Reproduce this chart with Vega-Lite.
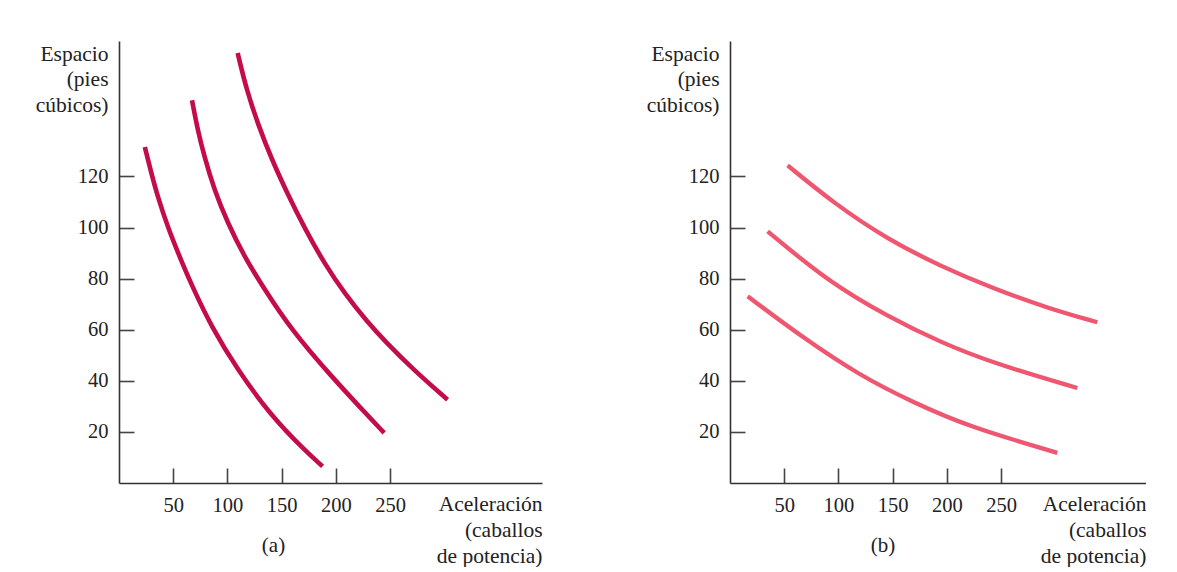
{
  "$schema": "https://vega.github.io/schema/vega-lite/v6.json",
  "padding": {"left": 35, "top": 41, "right": 0, "bottom": 0},
  "background": "white",
  "bounds": "flush",
  "spacing": 188,
  "datasets": {
    "a": [
      {"curve": 1, "x": 23.8, "y": 131.5}, {"curve": 1, "x": 29.5, "y": 121.8}, {"curve": 1, "x": 35.7, "y": 112.0}, {"curve": 1, "x": 44.9, "y": 100.2}, {"curve": 1, "x": 57.1, "y": 87.3}, {"curve": 1, "x": 67.9, "y": 76.6}, {"curve": 1, "x": 84.8, "y": 61.5}, {"curve": 1, "x": 109.4, "y": 44.2}, {"curve": 1, "x": 140.1, "y": 26.4}, {"curve": 1, "x": 170.8, "y": 13.0}, {"curve": 1, "x": 187.7, "y": 6.5},
      {"curve": 2, "x": 67.3, "y": 149.8}, {"curve": 2, "x": 72.5, "y": 138.3}, {"curve": 2, "x": 78.6, "y": 127.9}, {"curve": 2, "x": 87.8, "y": 114.8}, {"curve": 2, "x": 100.2, "y": 101.8}, {"curve": 2, "x": 115.5, "y": 88.7}, {"curve": 2, "x": 132.4, "y": 77.0}, {"curve": 2, "x": 158.5, "y": 60.1}, {"curve": 2, "x": 198.4, "y": 40.5}, {"curve": 2, "x": 221.5, "y": 30.0}, {"curve": 2, "x": 244.5, "y": 19.6},
      {"curve": 3, "x": 109.4, "y": 168.3}, {"curve": 3, "x": 117.5, "y": 154.0}, {"curve": 3, "x": 128.5, "y": 140.0}, {"curve": 3, "x": 140.5, "y": 127.0}, {"curve": 3, "x": 155.0, "y": 113.5}, {"curve": 3, "x": 172.0, "y": 99.0}, {"curve": 3, "x": 190.0, "y": 85.5}, {"curve": 3, "x": 208.0, "y": 74.2}, {"curve": 3, "x": 229.0, "y": 63.0}, {"curve": 3, "x": 244.5, "y": 55.8}, {"curve": 3, "x": 272.2, "y": 44.0}, {"curve": 3, "x": 302.9, "y": 32.6}
    ],
    "b": [
      {"curve": 1, "x": 53.1, "y": 124.3}, {"curve": 1, "x": 96.0, "y": 109.4}, {"curve": 1, "x": 145.2, "y": 95.4}, {"curve": 1, "x": 194.3, "y": 84.8}, {"curve": 1, "x": 243.4, "y": 76.0}, {"curve": 1, "x": 292.5, "y": 68.5}, {"curve": 1, "x": 338.6, "y": 62.9},
      {"curve": 2, "x": 34.7, "y": 98.5}, {"curve": 2, "x": 90.0, "y": 79.0}, {"curve": 2, "x": 145.2, "y": 65.2}, {"curve": 2, "x": 194.3, "y": 55.0}, {"curve": 2, "x": 243.4, "y": 46.8}, {"curve": 2, "x": 320.2, "y": 37.2},
      {"curve": 3, "x": 16.3, "y": 73.1}, {"curve": 3, "x": 65.4, "y": 57.4}, {"curve": 3, "x": 120.6, "y": 41.8}, {"curve": 3, "x": 169.7, "y": 31.4}, {"curve": 3, "x": 218.9, "y": 22.2}, {"curve": 3, "x": 301.7, "y": 11.8}
    ]
  },
  "config": {
    "view": {"stroke": null},
    "font": "Liberation Serif",
    "axis": {
      "grid": false,
      "domainColor": "#333333",
      "domainWidth": 1.6,
      "tickColor": "#444444",
      "tickWidth": 1.6,
      "tickSize": -15,
      "labelFont": "Liberation Serif",
      "labelFontSize": 20.5,
      "labelColor": "#222222",
      "labelFlush": false,
      "labelOverlap": false,
      "titleFont": "Liberation Serif",
      "titleFontSize": 21.5,
      "titleFontWeight": "normal",
      "titleColor": "#222222"
    },
    "title": {"font": "Liberation Serif", "fontSize": 21, "fontWeight": "normal", "color": "#222222"}
  },
  "hconcat": [
    {
      "width": 423,
      "height": 442,
      "data": {"name": "a"},
      "title": {"text": "(a)", "orient": "bottom", "anchor": "middle", "frame": "group", "dx": -57, "dy": -15, "offset": 0, "baseline": "alphabetic"},
      "mark": {"type": "line", "interpolate": "basis", "strokeWidth": 4.6, "color": "#C40C4B", "strokeCap": "butt"},
      "encoding": {
        "detail": {"field": "curve", "type": "nominal"},
        "x": {"field": "x", "type": "quantitative", "scale": {"domain": [0, 390], "nice": false, "zero": false},
          "axis": {"values": [50, 100, 150, 200, 250], "labelBaseline": "alphabetic", "labelPadding": 43,
            "title": ["Aceleración", "(caballos", "de potencia)"], "titleX": 423, "titleY": 27, "titleAlign": "right", "titleBaseline": "alphabetic", "titleLineHeight": 26}},
        "y": {"field": "y", "type": "quantitative", "scale": {"domain": [0, 173], "nice": false},
          "axis": {"values": [20, 40, 60, 80, 100, 120], "labelPadding": 26, "labelAlign": "right", "labelBaseline": "middle",
            "title": ["Espacio", "(pies", "cúbicos)"], "titleAngle": 0, "titleX": -11, "titleY": 19, "titleAlign": "right", "titleBaseline": "alphabetic", "titleLineHeight": 25.5}}
      }
    },
    {
      "width": 416,
      "height": 442,
      "data": {"name": "b"},
      "title": {"text": "(b)", "orient": "bottom", "anchor": "middle", "frame": "group", "dx": -55, "dy": -15, "offset": 0, "baseline": "alphabetic"},
      "mark": {"type": "line", "interpolate": "basis", "strokeWidth": 4.3, "color": "#EF5670", "strokeCap": "butt"},
      "encoding": {
        "detail": {"field": "curve", "type": "nominal"},
        "x": {"field": "x", "type": "quantitative", "scale": {"domain": [0, 383.5], "nice": false, "zero": false},
          "axis": {"values": [50, 100, 150, 200, 250], "labelBaseline": "alphabetic", "labelPadding": 43,
            "title": ["Aceleración", "(caballos", "de potencia)"], "titleX": 416, "titleY": 27, "titleAlign": "right", "titleBaseline": "alphabetic", "titleLineHeight": 26}},
        "y": {"field": "y", "type": "quantitative", "scale": {"domain": [0, 173], "nice": false},
          "axis": {"values": [20, 40, 60, 80, 100, 120], "labelPadding": 26, "labelAlign": "right", "labelBaseline": "middle",
            "title": ["Espacio", "(pies", "cúbicos)"], "titleAngle": 0, "titleX": -11, "titleY": 19, "titleAlign": "right", "titleBaseline": "alphabetic", "titleLineHeight": 25.5}}
      }
    }
  ]
}
